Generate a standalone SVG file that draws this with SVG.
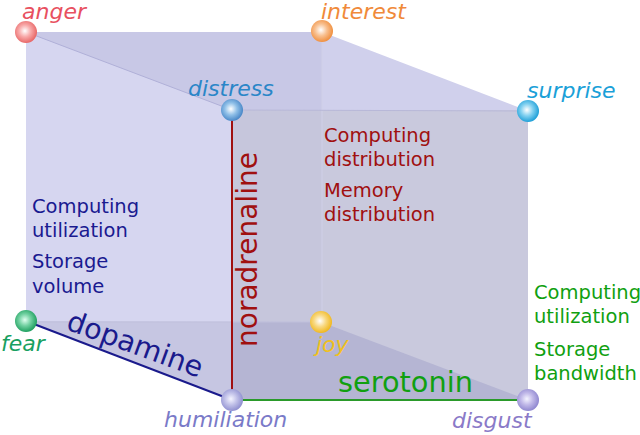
<svg xmlns="http://www.w3.org/2000/svg" width="640" height="435" viewBox="0 0 640 435">
<defs>
<style>
.lbl{font-family:"DejaVu Sans",sans-serif;font-style:italic;font-size:22px}
.txt{font-family:"DejaVu Sans",sans-serif;font-size:19.5px}
.big{font-family:"DejaVu Sans",sans-serif;font-size:28px}
</style>
<radialGradient id="gRed" cx="0.45" cy="0.45" r="0.55"><stop offset="0" stop-color="#fff"/><stop offset="0.5" stop-color="#f8a8a8"/><stop offset="1" stop-color="#e86868"/></radialGradient>
<radialGradient id="gOrange" cx="0.45" cy="0.45" r="0.55"><stop offset="0" stop-color="#fff"/><stop offset="0.5" stop-color="#f8c090"/><stop offset="1" stop-color="#f09040"/></radialGradient>
<radialGradient id="gBlue" cx="0.45" cy="0.45" r="0.55"><stop offset="0" stop-color="#fff"/><stop offset="0.5" stop-color="#90c0e8"/><stop offset="1" stop-color="#4a88c8"/></radialGradient>
<radialGradient id="gCyan" cx="0.45" cy="0.45" r="0.55"><stop offset="0" stop-color="#fff"/><stop offset="0.5" stop-color="#80d0f0"/><stop offset="1" stop-color="#20a0d8"/></radialGradient>
<radialGradient id="gGreen" cx="0.45" cy="0.45" r="0.55"><stop offset="0" stop-color="#e0fff0"/><stop offset="0.5" stop-color="#70d0a0"/><stop offset="1" stop-color="#20a060"/></radialGradient>
<radialGradient id="gYellow" cx="0.45" cy="0.45" r="0.55"><stop offset="0" stop-color="#fff"/><stop offset="0.5" stop-color="#f8d880"/><stop offset="1" stop-color="#f0b820"/></radialGradient>
<radialGradient id="gLav" cx="0.45" cy="0.45" r="0.55"><stop offset="0" stop-color="#f4f4ff"/><stop offset="0.5" stop-color="#c0c0e8"/><stop offset="1" stop-color="#9090d0"/></radialGradient>
<radialGradient id="gPurp" cx="0.45" cy="0.45" r="0.55"><stop offset="0" stop-color="#f4f4ff"/><stop offset="0.5" stop-color="#c0b8e8"/><stop offset="1" stop-color="#9088d0"/></radialGradient>
</defs>

<g id="faces">
<polygon points="26,32 322,32 528,111 232,110" fill="#d0d0ec"/>
<rect x="26" y="32" width="296" height="290" fill="#d6d6f0"/>
<polygon points="26,32 322,32 322,111 232,110" fill="#c8c8e6"/>
<polygon points="26,321 321,322 528,400 232,400" fill="#c6c6e2"/>
<rect x="232" y="110" width="296" height="290" fill="#c9c9dd"/>
<rect x="232" y="110" width="90" height="212" fill="#c6c6dc"/>
<polygon points="232,321.7 321,322 528,400 232,400" fill="#b5b5d3"/>
<line x1="322" y1="32" x2="322" y2="322" stroke="#d0d0e8" stroke-width="1"/>
<line x1="26" y1="322" x2="322" y2="322" stroke="#c0c0dc" stroke-width="1"/>
<line x1="232" y1="110" x2="528" y2="111" stroke="#b8b8d8" stroke-width="1"/>
<line x1="26" y1="32" x2="232" y2="110" stroke="#b0b0d8" stroke-width="1"/>
</g>

<g id="connectors">
<line x1="26" y1="321" x2="232" y2="400" stroke="#1a1a8c" stroke-width="2"/>
<line x1="232" y1="110" x2="232" y2="400" stroke="#a01010" stroke-width="2"/>
<line x1="232" y1="400" x2="528" y2="400" stroke="#2a9a2a" stroke-width="2"/>
</g>

<g id="anger"><circle cx="26" cy="32" r="11" fill="url(#gRed)"/><text class="lbl" x="22" y="19" fill="#e85060">anger</text></g>
<g id="interest"><circle cx="322" cy="31" r="11" fill="url(#gOrange)"/><text class="lbl" x="321" y="19" fill="#f08a3a">interest</text></g>
<g id="distress"><circle cx="232" cy="110" r="11" fill="url(#gBlue)"/><text class="lbl" x="188" y="96" fill="#2a86c8">distress</text></g>
<g id="surprise"><circle cx="528" cy="111" r="11" fill="url(#gCyan)"/><text class="lbl" x="527" y="98" fill="#1aa0d8">surprise</text></g>
<g id="fear"><circle cx="26" cy="321" r="11" fill="url(#gGreen)"/><text class="lbl" x="1" y="351" fill="#18a060">fear</text></g>
<g id="joy"><circle cx="321" cy="322" r="11" fill="url(#gYellow)"/><text class="lbl" x="316" y="352" fill="#f0c020">joy</text></g>
<g id="humiliation"><circle cx="232" cy="400" r="11" fill="url(#gLav)"/><text class="lbl" x="164" y="427" fill="#7a7ac8">humiliation</text></g>
<g id="disgust"><circle cx="528" cy="400" r="11" fill="url(#gPurp)"/><text class="lbl" x="452" y="428" fill="#8a7ac8">disgust</text></g>

<g id="left-text" class="txt" fill="#1a1a90">
<text x="32" y="213">Computing</text>
<text x="32" y="237">utilization</text>
<text x="32" y="268">Storage</text>
<text x="32" y="293">volume</text>
</g>
<g id="front-text" class="txt" fill="#a01010">
<text x="324" y="142">Computing</text>
<text x="324" y="166">distribution</text>
<text x="324" y="197">Memory</text>
<text x="324" y="221">distribution</text>
</g>
<g id="right-text" class="txt" fill="#10a010" font-size="19">
<text x="534" y="299">Computing</text>
<text x="534" y="323">utilization</text>
<text x="534" y="356">Storage</text>
<text x="534" y="380">bandwidth</text>
</g>

<g id="axis-labels" class="big">
<text transform="translate(65,329) rotate(20)" fill="#1a1a8c" font-size="28.5">dopamine</text>
<text transform="translate(257,347) rotate(-90)" fill="#a01010">noradrenaline</text>
<text x="338" y="392" fill="#10a010" font-size="28.8">serotonin</text>
</g>
</svg>
